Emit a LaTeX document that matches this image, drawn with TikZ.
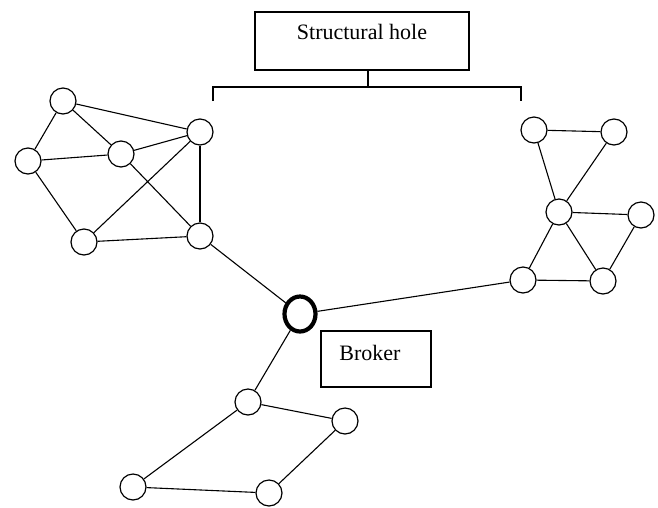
\documentclass[tikz,border=0pt]{standalone}
\usepackage{fontspec}
\setmainfont{Liberation Serif}
\usetikzlibrary{shapes.geometric}
\begin{document}
\begin{tikzpicture}[x=1pt,y=-1pt,
  nd/.style={circle,draw,line width=1.2pt,minimum size=26pt,inner sep=0pt},
  brk/.style={ellipse,draw,line width=4.2pt,minimum width=31pt,minimum height=35pt,inner sep=0pt},
  lbl/.style={draw,line width=1.1pt,inner sep=0pt},
  txt/.style={font=\fontsize{22}{26}\selectfont},
  ed/.style={line width=1.1pt}]
\useasboundingbox (0,0) rectangle (658,507);
% left cluster
\node[nd] (A) at (63,101) {};
\node[nd] (B) at (28,161) {};
\node[nd] (C) at (121,154) {};
\node[nd] (D) at (200,132) {};
\node[nd] (E) at (84,242) {};
\node[nd] (F) at (200,236) {};
% right cluster
\node[nd] (G) at (534,130) {};
\node[nd] (H) at (614,132) {};
\node[nd] (I) at (559,212) {};
\node[nd] (J) at (641,215) {};
\node[nd] (K) at (523,280) {};
\node[nd] (L) at (603,281) {};
% bottom cluster
\node[nd] (M) at (248,402) {};
\node[nd] (N) at (345,421) {};
\node[nd] (O) at (133,487) {};
\node[nd] (P) at (269,493) {};
% broker
\node[brk] (X) at (300,314) {};
% labels
\node[lbl,minimum width=214pt,minimum height=58pt] (SH) at (362,41) {};
\node[txt] (SHt) at (362,32) {Structural hole};
\node[lbl,minimum width=110pt,minimum height=56pt] (BB) at (376,359) {};
\node[txt] (BBt) at (370,353) {Broker};
\coordinate (br) at (368,87);
\coordinate (bl) at (213,87);
\coordinate (bll) at (213,101);
\coordinate (brr) at (521,87);
\coordinate (brd) at (521,101);
\draw[ed] (SH.south -| br) -- (br);
\draw[ed] (bll) -- (bl) -- (brr) -- (brd);
% edges
\begin{scope}[ed]
\draw (A) -- (B); \draw (A) -- (C); \draw (A) -- (D);
\draw (B) -- (C); \draw (B) -- (E);
\draw (C) -- (D); \draw (C) -- (F);
\draw (D) -- (E); \draw (D) -- (F); \draw (E) -- (F);
\draw (F) -- (X);
\draw (G) -- (H); \draw (G) -- (I); \draw (H) -- (I);
\draw (I) -- (J); \draw (I) -- (K); \draw (I) -- (L);
\draw (J) -- (L); \draw (K) -- (L);
\draw (K) -- (X);
\draw (M) -- (X); \draw (M) -- (N); \draw (M) -- (O);
\draw (N) -- (P); \draw (O) -- (P);
\end{scope}
\end{tikzpicture}
\end{document}
